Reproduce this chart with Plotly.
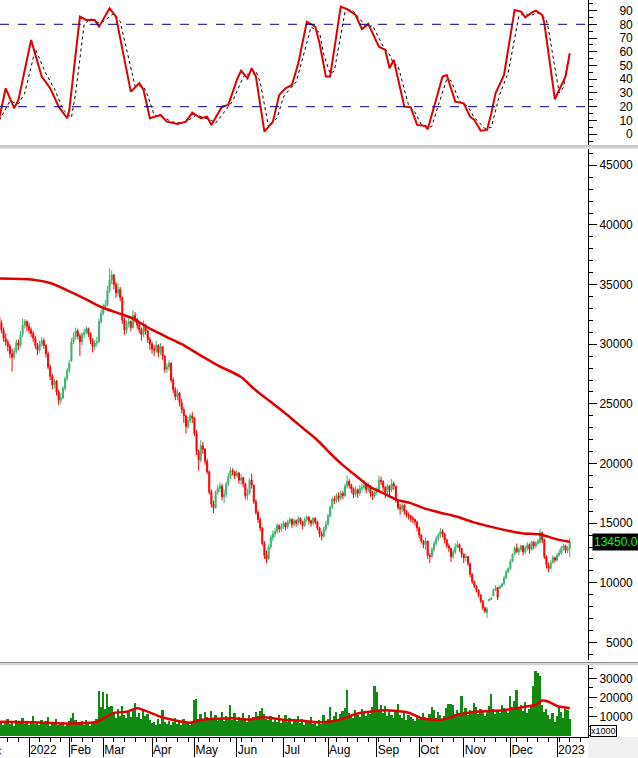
import plotly.graph_objects as go

# ---------------- data ----------------
month_labels = ['2022', 'Feb', 'Mar', 'Apr', 'May', 'Jun', 'Jul', 'Aug', 'Sep', 'Oct', 'Nov', 'Dec', '2023']
month_start_idx = [14, 33, 49, 72, 92, 112, 134, 155, 178, 198, 219, 241, 263]
prev_month_label = 'Dec'
prev_month_idx = -8

open_ = [
    32300, 31800, 31200, 30500, 30200, 29800, 29200, 28900, 29400, 30100,
    29900, 30800, 31600, 31900, 31500, 31200, 30900, 30500, 29900, 29500,
    30000, 30300, 29900, 29200, 28100, 27300, 26600, 26900, 26000, 25300,
    25500, 26300, 27100, 27800, 28600, 30200, 30600, 31100, 30700, 30200,
    30800, 31000, 31300, 30900, 30300, 29800, 30100, 30200, 31900, 32600,
    33100, 33300, 34500, 35400, 35800, 35000, 34300, 34600, 33900, 32000,
    31200, 31700, 31900, 31400, 32400, 32100, 31600, 31200, 30800, 31500,
    31100, 30400, 30000, 29600, 29500, 29900, 29300, 29800, 29000, 27900,
    28100, 28400, 27000, 26200, 25600, 25900, 25100, 24500, 24000, 23100,
    23600, 24000, 23800, 22500, 21000, 20300, 21500, 21200, 20200, 19300,
    17600, 16600, 16300, 17600, 17900, 18100, 17200, 17400, 18300, 18900,
    19400, 19300, 19000, 19200, 18600, 18800, 18300, 17300, 17500, 18600,
    18200, 16800, 15900, 15300, 14600, 13300, 12300, 12000, 13000, 13800,
    14100, 14300, 14800, 14500, 14700, 15000, 14700, 15100, 15300, 14900,
    15200, 15000, 15400, 15100, 14800, 15300, 15500, 15200, 15000, 15400,
    15100, 14600, 14100, 13900, 14500, 14900, 15600, 16300, 17000, 16900,
    17300, 17100, 17500, 17300, 18100, 18500, 18200, 17900, 17400, 17800,
    17500, 17900, 18000, 18200, 17800, 18100, 17500, 17300, 17600, 17700,
    18600, 18500, 18000, 17600, 18100, 17800, 18300, 18100, 16900, 16300,
    16200, 16500, 16000, 15700, 15600, 15400, 15300, 15100, 14600, 14000,
    13500, 13200, 13500, 12300, 12200, 12800, 13300, 13700, 14000, 14300,
    14100, 13600, 13100, 12900, 12200, 12600, 13000, 13200, 12900, 12400,
    12100, 12200, 11600, 10700, 10100, 9700, 9400, 9000, 8500, 7900,
    7500, 8500, 8600, 8900, 9400, 9600, 9500, 9700, 9900, 10400,
    10900, 11200, 11800, 12400, 12900, 12600, 12800, 13100, 12600, 12900,
    13200, 12800, 13400, 13100, 13300, 13400, 14200, 13600, 12200, 11500,
    11200, 11700, 12100, 11900, 12300, 12500, 12900, 13100, 12700, 12900]

high = [
    32500, 32000, 31400, 30900, 30400, 30000, 29600, 29700, 30400, 30400,
    31100, 32150, 32100, 32000, 31800, 31400, 31100, 30700, 30100, 30300,
    30600, 30500, 30000, 29400, 28300, 27500, 27100, 27000, 26200, 25900,
    26500, 27300, 28000, 28700, 30500, 31000, 31400, 31300, 30900, 31000,
    31300, 31500, 31400, 31000, 30500, 30400, 30600, 32150, 32900, 33400,
    33700, 34900, 36350, 36200, 35900, 35200, 35100, 34800, 34000, 32200,
    32000, 32300, 32000, 32850, 32700, 32200, 31800, 31400, 32000, 31700,
    31200, 30600, 30200, 29900, 30300, 30000, 30100, 29800, 29100, 28400,
    28650, 28500, 27200, 26400, 26200, 26000, 25400, 24700, 24100, 23900,
    24200, 24300, 23900, 22800, 21200, 21950, 21800, 21300, 20400, 19400,
    17800, 16900, 17750, 18200, 18400, 18300, 17800, 18500, 19200, 19700,
    19600, 19400, 19450, 19300, 19150, 18900, 18400, 17900, 18800, 19150,
    18200, 17000, 16100, 15500, 14700, 13500, 12700, 13200, 14000, 14400,
    14600, 15000, 14900, 15000, 15200, 15100, 15300, 15500, 15400, 15400,
    15300, 15600, 15500, 15200, 15500, 15650, 15600, 15300, 15500, 15500,
    15200, 14700, 14300, 14700, 15200, 15800, 16500, 17200, 17300, 17500,
    17600, 17750, 17700, 18300, 19000, 18700, 18300, 18000, 18100, 17900,
    18200, 18300, 18600, 18300, 18400, 18200, 17700, 17750, 18000, 19000,
    18900, 18600, 18100, 18300, 18200, 18700, 18500, 18100, 17000, 16600,
    16750, 16600, 16100, 15900, 15700, 15600, 15400, 15200, 14700, 14100,
    13600, 13800, 13500, 12500, 13000, 13500, 13900, 14150, 14600, 14500,
    14200, 13700, 13300, 12900, 12800, 13300, 13550, 13300, 12900, 12450,
    12450, 12200, 11700, 10800, 10200, 9800, 9400, 9000, 8500, 8000,
    7950, 8700, 8800, 9500, 9800, 9650, 9800, 10000, 10600, 11100,
    11300, 12000, 12450, 13100, 13300, 13000, 13200, 13150, 13100, 13400,
    13300, 13550, 13500, 13500, 13700, 14500, 14300, 13700, 12300, 11700,
    11900, 12300, 12200, 12500, 12800, 13100, 13300, 13200, 13100, 13750]

low = [
    31500, 30900, 30200, 29900, 29400, 28800, 27700, 28700, 29200, 29500,
    29700, 30600, 31300, 31100, 30900, 30600, 30200, 29600, 29100, 29300,
    29800, 29600, 28900, 27900, 27000, 26200, 26300, 25700, 24900, 25000,
    25400, 26100, 26900, 27600, 28500, 30000, 30400, 30400, 29000, 29900,
    30500, 30800, 30600, 30000, 29300, 29500, 29800, 30100, 31700, 32400,
    32900, 33200, 34300, 35000, 34600, 33900, 34000, 33600, 31700, 30800,
    30900, 31400, 31100, 31300, 31800, 31300, 30900, 30300, 30600, 30800,
    30100, 29500, 29200, 29000, 29300, 28900, 29100, 28700, 27600, 27600,
    27800, 26800, 25900, 25300, 25300, 24800, 24200, 23400, 22500, 22900,
    23400, 23400, 22300, 20700, 19400, 20100, 20800, 19900, 19100, 17400,
    16300, 15850, 16200, 17400, 17600, 16900, 16700, 17200, 18100, 18700,
    19000, 18700, 18800, 18300, 18200, 18000, 17000, 16950, 17400, 17900,
    16600, 15700, 15000, 14300, 13100, 12000, 11650, 11900, 12800, 13500,
    13800, 14100, 14200, 14300, 14500, 14400, 14500, 14900, 14600, 14700,
    14700, 14800, 14900, 14500, 14700, 15100, 14900, 14700, 14800, 14900,
    14400, 13800, 13550, 13800, 14300, 14800, 15500, 16200, 16600, 16700,
    16800, 16900, 17000, 17200, 17900, 17900, 17500, 17100, 17200, 17100,
    17300, 17600, 17800, 17500, 17600, 17200, 16950, 17100, 17350, 17600,
    18200, 17700, 17100, 17400, 17350, 17600, 17800, 16700, 16100, 15700,
    15900, 15700, 15500, 15300, 15100, 15000, 14800, 14300, 13700, 13300,
    12900, 12750, 12000, 11650, 12100, 12600, 13100, 13500, 13800, 13800,
    13300, 12900, 12600, 11750, 12000, 12400, 12900, 12600, 12100, 11650,
    11800, 11400, 10450, 9900, 9550, 9200, 8800, 8300, 7700, 7450,
    7050, 8450, 8550, 8900, 9300, 8550, 9500, 9600, 9800, 10300,
    10800, 11050, 11700, 12300, 12500, 12300, 12600, 12300, 12400, 12700,
    12450, 12700, 12800, 12900, 13200, 13300, 13300, 12000, 11200, 10900,
    11100, 11600, 11700, 11800, 12200, 12400, 12700, 12500, 12500, 12150]

close = [
    31800, 31200, 30500, 30200, 29800, 29200, 28900, 29400, 30100, 29900,
    30800, 31600, 31900, 31500, 31200, 30900, 30500, 29900, 29500, 30000,
    30300, 29900, 29200, 28100, 27300, 26600, 26900, 26000, 25300, 25500,
    26300, 27100, 27800, 28400, 30200, 30600, 31100, 30700, 30200, 30800,
    31000, 31300, 30900, 30300, 29800, 30100, 30200, 31900, 32600, 33100,
    33300, 34500, 35400, 35800, 35000, 34300, 34600, 33900, 32000, 31200,
    31700, 31900, 31400, 32400, 32100, 31600, 31200, 30800, 31500, 31100,
    30400, 30000, 29600, 29500, 29900, 29300, 29800, 29000, 27900, 28100,
    28400, 27000, 26200, 25600, 25900, 25100, 24500, 24000, 23100, 23600,
    24000, 23800, 22500, 21000, 20300, 21500, 21200, 20200, 19300, 17600,
    16600, 16300, 17600, 17900, 18100, 17200, 17400, 18300, 18900, 19400,
    19300, 19000, 19200, 18600, 18800, 18300, 17300, 17500, 18600, 18200,
    16800, 15900, 15300, 14600, 13300, 12300, 12000, 13000, 13800, 14100,
    14300, 14800, 14500, 14700, 15000, 14700, 15100, 15300, 14900, 15200,
    15000, 15400, 15100, 14800, 15300, 15500, 15200, 15000, 15400, 15100,
    14600, 14100, 13900, 14500, 14900, 15600, 16300, 17000, 16900, 17300,
    17100, 17500, 17300, 18100, 18500, 18200, 17900, 17400, 17800, 17500,
    17900, 18000, 18200, 17800, 18100, 17500, 17300, 17600, 17700, 18600,
    18500, 18000, 17600, 18100, 17800, 18300, 18100, 16900, 16300, 16200,
    16500, 16000, 15700, 15600, 15400, 15300, 15100, 14600, 14000, 13500,
    13200, 13500, 12300, 12200, 12800, 13300, 13700, 14000, 14300, 14100,
    13600, 13100, 12900, 12200, 12600, 13000, 13200, 12900, 12400, 12100,
    12200, 11600, 10700, 10100, 9700, 9400, 9000, 8500, 7900, 7600,
    7800, 8600, 8700, 9400, 9600, 8800, 9700, 9900, 10400, 10900,
    11200, 11800, 12400, 12900, 12600, 12800, 13100, 12600, 12900, 13200,
    12800, 13400, 13100, 13300, 13500, 14200, 13600, 12200, 11500, 11200,
    11700, 12100, 11900, 12300, 12500, 12900, 13100, 12700, 12900, 13450]

volume = [
    6500, 8000, 5500, 7200, 9000, 6000, 7800, 5200, 8500, 6800,
    7500, 9500, 6200, 8000, 5800, 7000, 10500, 6400, 7300, 5900,
    8200, 6000, 7600, 9800, 5400, 7100, 6300, 8800, 5600, 6900,
    7300, 5200, 6600, 8000, 9200, 12000, 8400, 7000, 6100, 7600,
    5800, 8300, 6700, 5300, 7200, 6500, 8800, 23500, 15000, 22800,
    14000, 22000, 15000, 15500, 12000, 9500, 13800, 10500, 15500, 11000,
    9200, 12500, 10000, 14000, 17200, 9800, 12000, 8800, 13000, 10200,
    11500, 8500, 6500, 7200, 5800, 9000, 6200, 13500, 7500, 6000,
    8000, 5600, 7200, 9500, 6400, 7800, 5500, 8600, 6800, 7400,
    5900, 7000, 18500, 19000, 9000, 11500, 8200, 12600, 10000, 9500,
    13000, 8600, 11000, 7800, 9500, 12200, 8000, 10500, 9000, 16000,
    8400, 11800, 7600, 10000, 8800, 12000, 9200, 7500, 11000, 8200,
    9800, 12500, 10500, 13000, 14500, 11500, 9000, 8400, 10500, 7000,
    9000, 7500, 10800, 6500, 8600, 11000, 7200, 9500, 6000, 8400,
    7800, 10200, 6800, 9000, 5600, 8000, 7200, 9600, 6400, 7500,
    5000, 8200, 6000, 11000, 7500, 9000, 15200, 8500, 10500, 12500,
    9000, 11500, 13000, 14500, 24000, 12000, 10800, 9500, 13500, 11000,
    9800, 14000, 12000, 10500, 13000, 11500, 15000, 26000, 23000, 13500,
    16000, 12000, 15500, 10500, 13000, 11000, 9500, 12800, 16500, 11000,
    9500, 12000, 8500, 11000, 10000, 9000, 7800, 10500, 8800, 9500,
    12000, 10000, 9000, 11500, 15000, 13500, 9500, 12500, 11000, 8500,
    10500, 14500, 16500, 16800, 16000, 11500, 13500, 12000, 21000, 12500,
    14500, 11000, 13500, 12500, 17000, 15000, 11500, 14000, 12500, 10500,
    13000, 15500, 22000, 14000, 11500, 13000, 12000, 16000, 14500, 13500,
    12000, 21000, 15000, 18000, 24000, 14500, 16000, 13000, 17500, 12000,
    14000, 15000, 26000, 33800, 32800, 31000, 16000, 12500, 14000, 11000,
    9000, 12000, 7000, 10500, 15000, 12500, 9500, 14000, 13500, 9000]

# long moving average of price (read as vertices)
ma_idx = [0, 16, 24, 32, 40, 48, 56, 63, 71, 79, 86, 95, 103, 114, 120, 129, 136, 142,
          150, 156, 162, 169, 175, 181, 188, 194, 200, 207, 213, 216, 223, 232, 240, 247,
          255, 263, 269]
ma_val = [35500, 35410, 35130, 34520, 33850, 33120, 32610, 32150, 31300, 30600, 30000, 29050,
          28230, 27250, 26280, 25030, 24050, 23130, 21950, 20860, 19860, 18850, 18020, 17520,
          16930, 16680, 16260, 15920, 15670, 15530, 15110, 14690, 14360, 14140, 14050, 13640,
          13440]

# volume moving average (vertices)
vma_idx = [0, 16, 32, 46, 54, 60, 65, 76, 82, 90, 95, 110, 118, 125, 135, 142, 151, 160,
           169, 182, 193, 199, 208, 216, 224, 238, 248, 253, 256, 259, 263, 269]
vma_val = [7400, 7100, 6500, 7400, 12000, 12600, 14400, 10000, 8300, 6900, 8300, 9200, 8500,
           9700, 8300, 8000, 7100, 8300, 11700, 13400, 12100, 9200, 8300, 10900, 12600, 13400,
           15200, 16100, 18400, 17800, 15600, 14400]

# stochastic %K (vertices)
stk_idx = [0, 3, 7, 9, 15, 20, 24, 28, 32, 33, 38, 41, 45, 47, 52, 55, 62, 66, 68, 71, 76,
           79, 84, 88, 91, 95, 98, 100, 105, 108, 112, 114, 117, 119, 121, 125, 129, 132,
           135, 138, 141, 145, 149, 150, 151, 154, 156, 161, 164, 168, 171, 174, 179, 182,
           184, 186, 189, 191, 194, 197, 201, 202, 205, 209, 211, 215, 219, 222, 224, 227,
           230, 232, 234, 238, 243, 246, 248, 251, 253, 256, 257, 262, 264, 267, 269]
stk_val = [11.6, 33.4, 18.9, 24.9, 68.6, 41.9, 33.4, 20, 11.6, 17.6, 85.6, 83.2, 83.2, 78.3,
           91.7, 85.6, 31, 37.1, 32.2, 11.6, 14, 9.1, 7.4, 9.1, 15.7, 11.6, 12.7, 6.7, 20,
           21.3, 39.5, 46.2, 40.7, 48, 41.9, 1.8, 9.1, 28.6, 33.4, 35.8, 51.6, 81.9, 78.3,
           73, 66.2, 41.9, 41.9, 92.9, 91, 86.8, 76.4, 80.3, 63.7, 61.3, 48, 54, 33.4, 20,
           19.6, 6.7, 6, 3.6, 20, 41.9, 43.1, 23.7, 22.5, 12.7, 10.3, 2.5, 3.1, 15.2, 29.8,
           43.1, 90.5, 89.2, 85.1, 88.5, 90, 86.8, 80.8, 25.4, 32.2, 41.9, 58.9]

# stochastic %D (vertices)
std_idx = [0, 5, 9, 12, 17, 22, 26, 30, 34, 36, 40, 43, 47, 49, 54, 57, 64, 68, 70, 73, 78,
           81, 86, 90, 93, 97, 100, 102, 107, 110, 114, 116, 119, 121, 123, 127, 131, 134,
           137, 140, 143, 147, 151, 153, 156, 158, 163, 166, 170, 173, 176, 181, 184, 186,
           188, 191, 193, 196, 199, 203, 204, 207, 211, 213, 217, 221, 224, 226, 229, 232,
           234, 236, 240, 245, 248, 250, 253, 255, 258, 259, 264, 266, 268]
std_val = [10, 24, 22, 30, 62, 44, 33, 18, 12, 30, 80, 84, 81, 82, 88, 82, 35, 35, 28, 14,
           12, 9, 8, 11, 14, 12, 10, 8, 18, 24, 38, 44, 43, 46, 38, 5, 12, 27, 33, 38, 55,
           78, 74, 58, 44, 46, 89, 91, 84, 78, 79, 64, 58, 51, 50, 32, 21, 16, 7, 5, 6, 21,
           40, 39, 24, 20, 12, 9, 4, 5, 16, 29, 45, 86, 88, 86, 88, 88, 83, 76, 30, 34, 52]

stoch_ticks = [0, 10, 20, 30, 40, 50, 60, 70, 80, 90]
stoch_levels = [20, 80]
price_ticks = [5000, 10000, 15000, 20000, 25000, 30000, 35000, 40000, 45000]
volume_ticks = [10000, 20000, 30000]
last_price = 13450

# ---------------- layout helpers ----------------
W, H = 638, 758
ML, MR, MT, MB = 0, 50, 0, 21
PH = H - MT - MB  # 737 plot px


def pfrac(px_from_top):
    return (PH - px_from_top) / PH


def pad(v, n=5):
    s = str(v)
    return '\u2007' * (n - len(s)) + s


FONT = 'Liberation Sans, Arial, sans-serif'
X_RANGE = [0.32, 277.6]
idx = list(range(len(close)))

fig = go.Figure()

# Stochastic panel
fig.add_trace(go.Scatter(x=std_idx, y=std_val, mode='lines', xaxis='x3', yaxis='y3',
                         line=dict(color='black', width=1, dash='dot'), hoverinfo='skip',
                         showlegend=False))
fig.add_trace(go.Scatter(x=stk_idx, y=stk_val, mode='lines', xaxis='x3', yaxis='y3',
                         line=dict(color='#e00000', width=2), hoverinfo='skip',
                         showlegend=False))

# Price panel
fig.add_trace(go.Candlestick(x=idx, open=open_, high=high, low=low, close=close,
                             xaxis='x2', yaxis='y2', whiskerwidth=0,
                             increasing=dict(line=dict(color='#3cb371', width=1),
                                             fillcolor='#3cb371'),
                             decreasing=dict(line=dict(color='#ff0000', width=1),
                                             fillcolor='#ff0000'),
                             hoverinfo='skip', showlegend=False))
fig.add_trace(go.Scatter(x=ma_idx, y=ma_val, mode='lines', xaxis='x2', yaxis='y2',
                         line=dict(color='#e00000', width=2.5, shape='spline', smoothing=0.8),
                         hoverinfo='skip', showlegend=False))

# Volume panel
fig.add_trace(go.Bar(x=idx, y=volume, xaxis='x', yaxis='y',
                     marker=dict(color='#118a11', line=dict(width=0)),
                     width=0.85, hoverinfo='skip', showlegend=False))
fig.add_trace(go.Scatter(x=vma_idx, y=vma_val, mode='lines', xaxis='x', yaxis='y',
                         line=dict(color='#e00000', width=2.5, shape='spline', smoothing=0.6),
                         hoverinfo='skip', showlegend=False))

tickfont = dict(family=FONT, size=12, color='black')

common_y = dict(side='right', showline=True, linecolor='black', linewidth=1, ticks='outside',
                ticklen=8, tickcolor='black', showgrid=False, zeroline=False, tickfont=tickfont,
                tickmode='array', fixedrange=True)

shapes = []
for lv in stoch_levels:
    shapes.append(dict(type='line', xref='x3 domain', x0=0, x1=1, yref='y3', y0=lv, y1=lv,
                       line=dict(color='#000080', width=1, dash='dash')))
# panel separators
for top_px in (146.0, 662.5):
    shapes.append(dict(type='line', xref='paper', x0=0, x1=1.1, yref='paper',
                       y0=pfrac(top_px), y1=pfrac(top_px), line=dict(color='#8a8a8a', width=1)))
    shapes.append(dict(type='line', xref='paper', x0=0, x1=1.1, yref='paper',
                       y0=pfrac(top_px + 1.8), y1=pfrac(top_px + 1.8), line=dict(color='#d4d4d4', width=2)))
# grey corner under the right scale
shapes.append(dict(type='rect', xref='paper', x0=1.0, x1=1.1, yref='paper', y0=-0.04, y1=0,
                   fillcolor='#f0f0f0', line=dict(width=0), layer='below'))

annotations = [
    dict(xref='paper', x=1, xanchor='left', xshift=4, yref='y2', y=last_price, yanchor='middle',
         text=f'{last_price:.2f}', showarrow=False, bgcolor='black', borderpad=1,
         font=dict(family=FONT, size=12, color='#00ff00')),
    dict(xref='paper', x=1, xanchor='left', xshift=2, yref='paper', y=0, yanchor='bottom',
         text='x1000', showarrow=False, bgcolor='white', bordercolor='black', borderwidth=1,
         borderpad=0, font=dict(family=FONT, size=9, color='black')),
    dict(xref='paper', x=(prev_month_idx - X_RANGE[0]) / (X_RANGE[1] - X_RANGE[0]), xanchor='left',
         xshift=-4, yref='paper', y=0, yanchor='top', yshift=-5, text=prev_month_label,
         showarrow=False, font=tickfont),
]

fig.update_layout(
    width=W, height=H, margin=dict(l=ML, r=MR, t=MT, b=MB),
    paper_bgcolor='white', plot_bgcolor='white', showlegend=False,
    bargap=0,
    xaxis=dict(domain=[0, 1], anchor='y', range=X_RANGE, showline=True, linecolor='black',
               linewidth=1, ticks='outside', ticklen=19, tickcolor='black', tickmode='array',
               tickvals=month_start_idx, ticktext=month_labels,
               ticklabelposition='outside right', ticklabelstandoff=2,
               tickfont=tickfont, showgrid=False, zeroline=False, fixedrange=True,
               minor=dict(ticks='outside', ticklen=4, tickmode='linear', tick0=14, dtick=5,
                          tickcolor='black', showgrid=False)),
    xaxis2=dict(domain=[0, 1], anchor='y2', matches='x', range=X_RANGE, showticklabels=False,
                ticks='', showline=False, showgrid=False, zeroline=False,
                rangeslider=dict(visible=False), fixedrange=True),
    xaxis3=dict(domain=[0, 1], anchor='y3', matches='x', range=X_RANGE, showticklabels=False,
                ticks='', showline=False, showgrid=False, zeroline=False, fixedrange=True),
    yaxis=dict(domain=[0, pfrac(664)], anchor='x', range=[-573, 37448],
               tickvals=volume_ticks, ticktext=[pad(v) for v in volume_ticks],
               minor=dict(ticks='outside', ticklen=4, tickmode='linear', tick0=0, dtick=5000,
                          tickcolor='black'), **common_y),
    yaxis2=dict(domain=[pfrac(660), pfrac(148.5)], anchor='x2', range=[3527, 46407],
                tickvals=price_ticks, ticktext=[pad(v) for v in price_ticks],
                minor=dict(ticks='outside', ticklen=4, tickmode='linear', tick0=0, dtick=1000,
                           tickcolor='black'), **common_y),
    yaxis3=dict(domain=[pfrac(145), 1], anchor='x3', range=[-7.9, 97.7],
                tickvals=stoch_ticks, ticktext=[pad(v) for v in stoch_ticks],
                minor=dict(ticks='outside', ticklen=4, tickmode='linear', tick0=0, dtick=5,
                           tickcolor='black'), **common_y),
    shapes=shapes, annotations=annotations,
)

fig.write_html('out.html')
